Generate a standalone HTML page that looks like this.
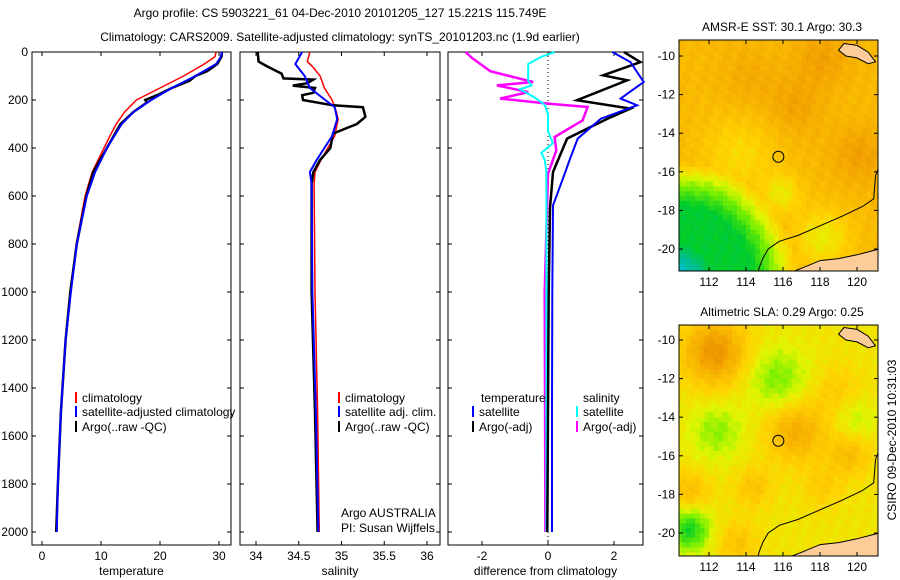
<!DOCTYPE html>
<html><head><meta charset="utf-8">
<style>
body{margin:0;background:#fff;}
svg{display:block;font-family:"Liberation Sans",sans-serif;}
text{fill:#000;font-size:12px;}
</style></head>
<body>
<svg id="fig" width="900" height="580" viewBox="0 0 900 580" xmlns="http://www.w3.org/2000/svg">
<text x="340" y="17" text-anchor="middle" font-size="13">Argo profile: CS 5903221_61 04-Dec-2010 20101205_127 15.221S 115.749E</text>
<text x="340" y="41" text-anchor="middle" font-size="13">Climatology: CARS2009. Satellite-adjusted climatology: synTS_20101203.nc (1.9d earlier)</text>
<text x="782" y="31" text-anchor="middle">AMSR-E SST: 30.1 Argo: 30.3</text>
<text x="782" y="316" text-anchor="middle">Altimetric SLA: 0.29 Argo: 0.25</text>
<text transform="translate(896,440) rotate(-90)" text-anchor="middle">CSIRO 09-Dec-2010 10:31:03</text>
<g id="panels"></g>
</svg>
<script>
// ---- data ----
const tDepth  = [0,20,50,100,150,200,250,300,350,400,500,600,800,1000,1200,1500,1800,2000];
const tClim   = [29.5,29.3,27.5,24,20,16,14,12.6,11.5,10.5,8.5,7.3,5.8,4.8,4.0,3.2,2.7,2.5];
const tSatDepth=[0,20,50,100,150,200,250,300,400,500,600,800,1000,1200,1500,1800,2000];
const tSat    = [30.5,30.3,29.5,26,22,18.5,15.5,13.5,11,9,7.6,5.9,4.9,4.0,3.2,2.7,2.5];
const tArgoDepth=[0,20,50,80,100,120,150,180,200,210,250,300,400,500,600,800,1000,1200,1500,1800,2000];
const tArgo   = [30.5,30.4,29.7,28,26,25,22,19.5,17.5,17.8,15.5,13.3,11,8.7,7.5,5.9,4.8,4.0,3.2,2.7,2.4];

const sClimDepth=[0,40,60,100,150,200,250,280,350,400,450,500,550,1000,1500,2000];
const sClim   = [34.63,34.6,34.66,34.75,34.8,34.89,34.94,34.96,34.92,34.84,34.76,34.69,34.68,34.69,34.72,34.74];
const sSatDepth=[0,50,100,150,200,230,280,350,450,500,550,1000,1500,2000];
const sSat    = [34.54,34.46,34.57,34.63,34.81,34.92,34.95,34.89,34.71,34.63,34.65,34.66,34.7,34.73];
const sArgoDepth=[0,40,60,90,110,115,130,140,150,170,180,200,222,230,270,300,340,400,450,500,550,1000,1500,2000];
const sArgo   = [34.02,34.03,34.13,34.3,34.32,34.67,34.6,34.43,34.69,34.67,34.54,34.55,34.9,35.25,35.28,35.18,34.9,34.87,34.75,34.67,34.65,34.65,34.69,34.72];

const dTSatDepth=[0,42,125,194,222,278,361,444,528,639,1000,1500,2000];
const dTSat   = [1.95,2.5,2.9,2.2,2.7,1.6,0.9,0.67,0.45,0.15,0.13,0.12,0.12];
const dTArgoDepth=[0,42,97,118,201,236,278,361,500,650,1000,1500,2000];
const dTArgo  = [2.3,2.8,1.67,2.4,0.88,2.5,1.8,0.58,0.15,0.06,0.02,0.0,-0.02];
const dSSatDepth=[0,20,50,120,140,155,190,220,260,330,380,420,450,500,1000,2000];
const dSSat   = [0.2,-0.2,-0.6,-0.6,-0.5,-0.85,-0.4,-0.1,0,0,0.15,-0.2,-0.1,-0.05,-0.05,-0.05];
const dSArgoDepth=[0,25,80,125,139,167,194,215,229,285,354,410,507,1000,2000];
const dSArgo  = [-2.5,-2.3,-1.75,-0.45,-1.55,-0.6,-1.45,0,1.2,1.05,0.2,0.25,0,-0.1,-0.08];

const depthTicks=[0,200,400,600,800,1000,1200,1400,1600,1800,2000];
const tTicks=[0,10,20,30], sTicks=[34,34.5,35,35.5,36], dTicks=[-2,0,2];
const latTicks=[-10,-12,-14,-16,-18,-20], lonTicks=[112,114,116,118,120];

// ---- helpers ----
const NS="http://www.w3.org/2000/svg";
const root=document.getElementById('panels');
function mk(tag,attrs,parent){const e=document.createElementNS(NS,tag);for(const k in attrs)e.setAttribute(k,attrs[k]);(parent||root).appendChild(e);return e;}
const yD=d=>52+d*0.24;
function panel(name,x0,x1,y0,y1,xs,ticks,label,showY){
  const g=mk('g',{});
  
  
  const r=mk('rect',{x:x0,y:y0,width:x1-x0,height:y1-y0,fill:'none',stroke:'#000','stroke-width':1},g);
  
  
  ticks.forEach(t=>{const x=xs(t);
    mk('line',{x1:x,x2:x,y1:y1,y2:y1-4,stroke:'#000'},g);mk('line',{x1:x,x2:x,y1:y0,y2:y0+4,stroke:'#000'},g);
    const tx=mk('text',{x:x,y:y1+15,'text-anchor':'middle'},g);tx.textContent=t;
    
    });
  depthTicks.forEach(d=>{const y=yD(d);
    mk('line',{x1:x0,x2:x0+4,y1:y,y2:y,stroke:'#000'},g);mk('line',{x1:x1,x2:x1-4,y1:y,y2:y,stroke:'#000'},g);
    if(showY){const tx=mk('text',{x:x0-4,y:y+4,'text-anchor':'end'},g);tx.textContent=d;
      
      }});
  const lb=mk('text',{x:(x0+x1)/2,y:y1+30,'text-anchor':'middle'},g);lb.textContent=label;
  
  
  return g;
}
function line(g,name,ds,vs,xs,col,w){
  const pts=ds.map((d,i)=>xs(vs[i]).toFixed(1)+','+yD(d).toFixed(1)).join(' ');
  const p=mk('polyline',{points:pts,fill:'none',stroke:col,'stroke-width':w},g);
  
  
}
function legend(g,x,y,col,txt){
  if(col)mk('rect',{x:x,y:y-10,width:2,height:11,fill:col},g);
  const t=mk('text',{x:x+7,y:y},g);t.textContent=txt;
  
  
}
const xT=v=>42+v*5.9;
let g=panel('temperature-panel',32,231,52,545,xT,tTicks,'temperature',true);
line(g,'temp-climatology-line',tDepth,tClim,xT,'#f00',1.5);
line(g,'temp-argo-line',tArgoDepth,tArgo,xT,'#000',2.5);
line(g,'temp-satellite-line',tSatDepth,tSat,xT,'#00f',2);
legend(g,75,402,'#f00','climatology');legend(g,75,416,'#00f','satellite-adjusted climatology');legend(g,75,431,'#000','Argo(..raw -QC)');
const xS=v=>256+(v-34)*85.5;
g=panel('salinity-panel',240,440,52,545,xS,sTicks,'salinity',false);
line(g,'sal-climatology-line',sClimDepth,sClim,xS,'#f00',1.5);
line(g,'sal-argo-line',sArgoDepth,sArgo,xS,'#000',2.5);
line(g,'sal-satellite-line',sSatDepth,sSat,xS,'#00f',2);
legend(g,338,402,'#f00','climatology');legend(g,338,416,'#00f','satellite adj. clim.');legend(g,338,431,'#000','Argo(..raw -QC)');
legend(g,334,517,null,'Argo AUSTRALIA');legend(g,334,532,null,'PI: Susan Wijffels');
const xDf=v=>548+v*33;
g=panel('difference-panel',448,643,52,545,xDf,dTicks,'difference from climatology',false);
mk('line',{x1:548,x2:548,y1:52,y2:545,stroke:'#000','stroke-dasharray':'1,3'},g);
line(g,'diff-sal-argo-line',dSArgoDepth,dSArgo,xDf,'#f0f',2.5);
line(g,'diff-sal-sat-line',dSSatDepth,dSSat,xDf,'#0ff',2);
line(g,'diff-temp-argo-line',dTArgoDepth,dTArgo,xDf,'#000',2.5);
line(g,'diff-temp-sat-line',dTSatDepth,dTSat,xDf,'#00f',2);
legend(g,474,402,null,'temperature');legend(g,576,402,null,'salinity');
legend(g,472,416,'#00f','satellite');legend(g,576,416,'#0ff','satellite');
legend(g,472,431,'#000','Argo(-adj)');legend(g,576,431,'#f0f','Argo(-adj)');

// ---- maps ----
const lonX=l=>709+(l-112)*18.5;
const sstBlobs=[[115.8,-17.0,-0.14,1.0],[113.5,-15.0,-0.1,2],[118,-19.3,-0.15,1.5],[116.5,-12.5,0.07,1.5],[120,-15,0.08,1.5],[118,-10,0.08,1.5],[114,-11,0.05,1.5]];
const slaBlobs=[[112.2,-10.5,0.24,1.7],[115.6,-11.9,-0.15,1.6],[112.3,-14.6,-0.13,1.4],[116.6,-14.6,0.17,1.6],[119.5,-15.8,0.12,1.1],[110.8,-19.7,-0.28,1.1],[114.3,-17.5,0.1,1.0],[110.8,-17.8,0.12,1.1],[118.8,-12.5,0.07,1.3],[119.8,-14,-0.08,1.1],[113.4,-20.4,0.1,1.1],[118,-17.5,0.07,1.1]];
function sstExtra(lon,lat){
  const q=((lon-110)/6)**2+((lat+21.5)/5.5)**2;
  return -0.44*Math.max(0,Math.min(1,(1.25-q)/0.75))-0.2*Math.max(0,Math.min(1,(0.12-q)/0.1));
}
function cmap(v){
  const st=[[0,[0,190,255]],[0.15,[0,190,140]],[0.3,[0,205,40]],[0.45,[120,240,0]],[0.55,[225,245,0]],[0.65,[255,210,0]],[0.78,[245,170,0]],[0.9,[230,130,0]],[1,[200,90,0]]];
  v=Math.max(0,Math.min(1,v));
  for(let i=1;i<st.length;i++)if(v<=st[i][0]){const a=st[i-1],b=st[i],f=(v-a[0])/(b[0]-a[0]);
    return 'rgb('+a[1].map((c,k)=>Math.round(c+(b[1][k]-c)*f)).join(',')+')';}
  return 'rgb(200,90,0)';
}
function map(name,y0,y1,latY,base,blobs,extra){
  const mg=mk('g',{});
  
  
  const cid=name+'-clip';
  const cp=mk('clipPath',{id:cid},mg);mk('rect',{x:679,y:y0,width:199,height:y1-y0},cp);
  const cg=mk('g',{'clip-path':'url(#'+cid+')'},mg);
  for(let lon=110.25;lon<121.25;lon+=0.25){for(let lat=-9;lat>-21.5;lat-=0.25){
    let v=base;blobs.forEach(b=>{const d2=((lon-b[0])**2+(lat-b[1])**2)/(b[3]*b[3]);v+=b[2]*Math.exp(-d2);});
    if(extra)v+=extra(lon,lat);
    v+=0.025*Math.sin(lon*7.1+lat*3.3)*Math.cos(lat*5.7);
    mk('rect',{x:lonX(lon).toFixed(1),y:latY(lat).toFixed(1),width:4.9,height:5.2,fill:cmap(v)},cg);}}
  const P=a=>a.map(p=>lonX(p[0]).toFixed(1)+','+latY(p[1]).toFixed(1)).join(' ');
  mk('polygon',{points:P([[121.2,-20.0],[120,-20.3],[119,-20.5],[118,-20.6],[117.5,-20.8],[117,-21.0],[116.2,-21.3],[116,-21.6],[121.2,-21.6]]),fill:'#fccc99',stroke:'#000','stroke-width':1},cg);
  mk('polygon',{points:P([[119,-9.7],[119.3,-9.35],[120,-9.45],[120.6,-9.8],[121,-10.3],[120.6,-10.4],[120,-10.1],[119.4,-10.0]]),fill:'#fccc99',stroke:'#000','stroke-width':1},cg);
  mk('polyline',{points:P([[121.2,-15.7],[121,-16.2],[120.9,-17.4],[120.3,-17.8],[119.2,-18.3],[118,-18.8],[116.8,-19.3],[115.8,-19.6],[115.2,-20],[114.9,-20.5],[114.7,-21.0],[114.6,-21.5]]),fill:'none',stroke:'#000','stroke-width':1},cg);
  mk('circle',{cx:lonX(115.749),cy:latY(-15.221),r:5.5,fill:'none',stroke:'#000','stroke-width':1},mg);
  const fr=mk('rect',{x:679,y:y0,width:199,height:y1-y0,fill:'none',stroke:'#000'},mg);
  
  
  latTicks.forEach(l=>{const y=latY(l);mk('line',{x1:679,x2:683,y1:y,y2:y,stroke:'#000'},mg);mk('line',{x1:878,x2:874,y1:y,y2:y,stroke:'#000'},mg);
    const t=mk('text',{x:675,y:y+4,'text-anchor':'end'},mg);t.textContent=l;
    
    });
  lonTicks.forEach(l=>{const x=lonX(l);mk('line',{x1:x,x2:x,y1:y1,y2:y1-4,stroke:'#000'},mg);mk('line',{x1:x,x2:x,y1:y0,y2:y0+4,stroke:'#000'},mg);
    const t=mk('text',{x:x,y:y1+15,'text-anchor':'middle'},mg);t.textContent=l;
    
    });
}
map('sst-map',40,271,l=>56+(-10-l)*19.3,0.73,sstBlobs,sstExtra);
map('sla-map',325,556,l=>340+(-10-l)*19.3,0.6,slaBlobs,null);
</script>
</body></html>
